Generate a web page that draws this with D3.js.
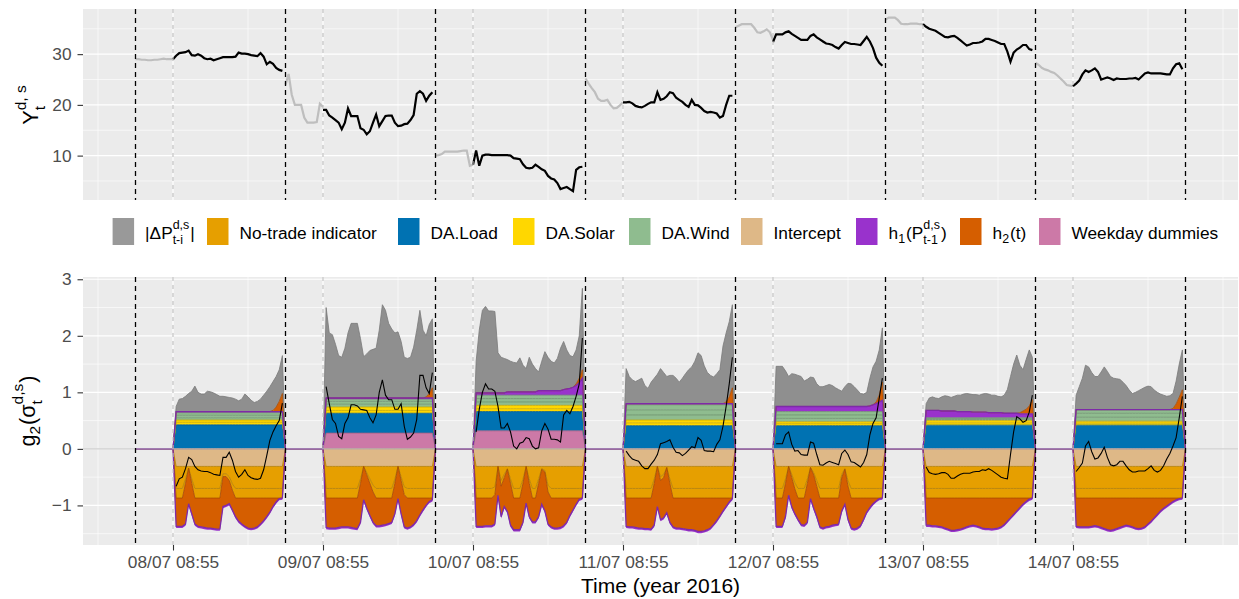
<!DOCTYPE html>
<html>
<head>
<meta charset="utf-8">
<script src="https://cdn.jsdelivr.net/npm/d3@7"></script>
<style>
body { margin: 0; background: #fff; }
text { font-family: "Liberation Sans", Arial, Helvetica, sans-serif; }
</style>
</head>
<body>
<svg id="chart" width="1239" height="599"></svg>
<script>
"use strict";

// ---------- data ----------
// one entry per trading day, 08/07 .. 14/07; 30 minute steps
const HOUR = 36e5, DAY = 24 * HOUR, STEP = HOUR / 2;
const firstTick = Date.UTC(2016, 6, 8, 8, 55);   // 08/07 08:55

// top panel: price before the 08:55 mark (grey) and after it (black)
const priceBefore = [
    [29.0, 29.0, 28.9, 28.9, 28.8, 28.8, 28.9, 28.9, 29.0, 29.1, 29.0, 29.0, 29.0],
    [24.0, 26.1, 22.0, 20.0, 20.0, 20.0, 17.5, 16.5, 16.5, 16.5, 16.6, 20.2, 19.6],
    [10.0, 10.1, 10.3, 10.8, 10.8, 10.8, 10.8, 10.8, 10.9, 11.0, 11.0, 8.0, 8.2],
    [25.2, 24.2, 23.3, 22.5, 21.2, 20.8, 20.8, 21.0, 20.0, 19.3, 19.4, 19.9, 20.5],
    [35.3, 35.6, 35.9, 35.9, 35.9, 35.9, 35.2, 34.3, 34.2, 34.5, 34.9, 34.3, 32.8],
    [36.8, 37.2, 37.2, 37.2, 36.7, 36.0, 35.9, 35.9, 36.0, 36.0, 36.0, 35.9, 35.9],
    [28.3, 27.9, 27.3, 27.0, 26.8, 26.5, 26.3, 25.8, 25.2, 24.6, 23.9, 23.8, 23.7]
];
const priceAfter = [
    [29.0, 29.7, 30.2, 30.3, 30.4, 30.7, 29.8, 29.7, 30.0, 29.7, 29.2, 29.0, 29.1, 28.8, 29.0, 29.2, 29.4, 29.4, 29.4, 29.4, 29.5, 30.3, 30.1, 30.1, 30.0, 29.8, 29.7, 29.6, 30.2, 29.5, 28.0, 28.5, 28.1, 27.3, 26.9, 26.7],
    [19.0, 19.0, 17.9, 17.5, 17.0, 16.5, 15.2, 16.5, 19.3, 17.8, 17.8, 17.8, 15.4, 15.1, 14.2, 14.8, 16.5, 18.1, 15.8, 16.8, 17.8, 17.9, 17.9, 16.5, 15.8, 15.9, 16.2, 16.3, 17.0, 18.0, 22.2, 22.7, 22.2, 20.8, 21.8, 22.5],
    [8.2, 11.0, 8.0, 10.0, 10.2, 10.2, 10.1, 10.1, 10.1, 10.1, 10.1, 10.1, 10.0, 9.5, 9.4, 9.3, 8.3, 7.6, 7.5, 7.6, 8.2, 7.8, 7.3, 7.0, 6.0, 5.5, 5.3, 4.6, 3.4, 3.6, 3.8, 3.4, 3.0, 7.2, 7.7, 7.8],
    [20.5, 20.5, 20.6, 20.3, 19.8, 19.6, 19.5, 19.8, 20.2, 20.5, 20.5, 22.5, 21.0, 21.2, 21.7, 22.5, 22.3, 21.4, 21.0, 20.6, 20.0, 19.6, 21.0, 20.0, 19.9, 19.4, 18.8, 18.5, 18.6, 18.5, 18.3, 17.5, 17.8, 20.0, 21.8, 21.8],
    [32.4, 33.9, 33.9, 33.9, 34.3, 34.5, 34.0, 33.6, 33.2, 32.8, 32.8, 32.8, 33.6, 33.9, 33.3, 32.9, 32.5, 32.1, 32.0, 31.8, 31.4, 31.1, 31.8, 32.4, 32.2, 32.0, 32.0, 31.9, 31.8, 32.6, 33.4, 32.5, 31.2, 29.3, 28.3, 27.7],
    [35.9, 35.4, 35.0, 34.8, 34.6, 34.2, 33.8, 33.4, 33.3, 33.5, 33.6, 33.2, 32.7, 32.2, 31.7, 31.9, 32.2, 32.2, 32.3, 32.5, 33.0, 33.0, 32.8, 32.6, 32.3, 32.0, 32.0, 30.5, 28.5, 30.3, 30.9, 31.3, 31.8, 31.8, 31.0, 30.8],
    [23.7, 24.2, 24.8, 26.0, 26.8, 26.5, 26.8, 27.2, 26.5, 25.0, 25.2, 25.4, 25.2, 24.9, 25.2, 25.1, 25.1, 25.1, 25.2, 25.2, 25.3, 25.0, 25.6, 26.2, 26.4, 26.2, 26.2, 26.2, 26.2, 26.1, 26.0, 26.0, 27.2, 28.0, 28.2, 27.0]
];

// bottom panel: contributions that stay flat within a day
const weekdayDummies = [0, 0.28, 0.32, 0, 0, 0, 0];
const daLoad   = [0.425, 0.35, 0.34, 0.41, 0.41, 0.42, 0.42];
const daSolar1 = [0.045, 0.05, 0.05, 0.05, 0.035, 0.04, 0.035];
const daSolar2 = [0.04, 0.06, 0.06, 0.05, 0.035, 0.04, 0.035];
const daWind1  = [0.04, 0.05, 0.06, 0.09, 0.06, 0.02, 0.07];
const daWind2  = [0.045, 0.05, 0.06, 0.09, 0.06, 0.02, 0.07];
const daWind3  = [0.045, 0.04, 0.06, 0.09, 0.06, 0.01, 0.06];
const intercept = [-0.31, -0.31, -0.31, -0.31, -0.31, -0.31, -0.31];
const h1Lower  = [-0.03, -0.03, -0.03, -0.03, -0.03, -0.03, -0.03];

// bottom panel: contributions per 30 minute step (09:25 .. 02:25)
const noTradeA = [
    [0.39, 0.39, 0.39, 0.22, 0.03, 0.22, 0.39, 0.39, 0.39, 0.39, 0.39, 0.39, 0.39, 0.39, 0.39, 0.13, 0.13, 0.18, 0.31, 0.39, 0.39, 0.39, 0.39, 0.39, 0.39, 0.39, 0.39, 0.39, 0.39, 0.39, 0.39, 0.39, 0.39, 0.39, 0.39],
    [0.39, 0.39, 0.39, 0.39, 0.39, 0.39, 0.39, 0.39, 0.39, 0.39, 0.39, 0.22, 0, 0.11, 0.22, 0.33, 0.39, 0.39, 0.39, 0.39, 0.39, 0.39, 0.22, 0, 0.18, 0.36, 0.39, 0.39, 0.39, 0.39, 0.39, 0.39, 0.39, 0.39, 0.39],
    [0.39, 0.39, 0.39, 0.39, 0.39, 0.39, 0.36, 0, 0.25, 0.14, 0.04, 0.22, 0.39, 0.39, 0.39, 0.22, 0, 0.22, 0.39, 0.39, 0.22, 0.04, 0.07, 0.33, 0.39, 0.39, 0.39, 0.39, 0.39, 0.39, 0.39, 0.39, 0.39, 0.39, 0.39],
    [0.39, 0.39, 0.39, 0.39, 0.39, 0.39, 0.39, 0.39, 0.39, 0.22, 0, 0.18, 0.14, 0.02, 0.22, 0.39, 0.39, 0.39, 0.39, 0.39, 0.39, 0.39, 0.39, 0.39, 0.39, 0.39, 0.39, 0.39, 0.39, 0.39, 0.39, 0.39, 0.39, 0.39, 0.39],
    [0.39, 0.39, 0.39, 0.22, 0, 0.14, 0.29, 0.39, 0.39, 0.39, 0.22, 0.02, 0.11, 0.25, 0.39, 0.39, 0.39, 0.39, 0.39, 0.39, 0.39, 0.14, 0.04, 0.25, 0.39, 0.39, 0.39, 0.39, 0.39, 0.39, 0.39, 0.39, 0.39, 0.39, 0.39],
    [0.39, 0.39, 0.39, 0.39, 0.39, 0.39, 0.39, 0.39, 0.39, 0.39, 0.39, 0.39, 0.39, 0.39, 0.39, 0.39, 0.39, 0.39, 0.39, 0.39, 0.39, 0.39, 0.39, 0.39, 0.39, 0.39, 0.39, 0.39, 0.39, 0.39, 0.39, 0.39, 0.39, 0.39, 0.39],
    [0.39, 0.39, 0.39, 0.39, 0.39, 0.39, 0.39, 0.39, 0.39, 0.39, 0.39, 0.39, 0.39, 0.39, 0.39, 0.39, 0.39, 0.39, 0.39, 0.39, 0.39, 0.39, 0.39, 0.39, 0.39, 0.39, 0.39, 0.39, 0.39, 0.39, 0.39, 0.39, 0.39, 0.39, 0.39]
];
const noTradeB = [
    [0.17, 0.17, 0.17, 0.08, 0, 0.08, 0.17, 0.17, 0.17, 0.17, 0.17, 0.17, 0.17, 0.17, 0.17, 0.05, 0.05, 0.07, 0.11, 0.17, 0.17, 0.17, 0.17, 0.17, 0.17, 0.17, 0.17, 0.17, 0.17, 0.17, 0.17, 0.17, 0.17, 0.17, 0.17],
    [0.17, 0.17, 0.17, 0.17, 0.17, 0.17, 0.17, 0.17, 0.17, 0.17, 0.17, 0.08, 0, 0.04, 0.08, 0.12, 0.17, 0.17, 0.17, 0.17, 0.17, 0.17, 0.08, 0, 0.07, 0.14, 0.17, 0.17, 0.17, 0.17, 0.17, 0.17, 0.17, 0.17, 0.17],
    [0.17, 0.17, 0.17, 0.17, 0.17, 0.17, 0.14, 0, 0.10, 0.06, 0.01, 0.08, 0.17, 0.17, 0.17, 0.08, 0, 0.08, 0.17, 0.17, 0.08, 0.01, 0.03, 0.12, 0.17, 0.17, 0.17, 0.17, 0.17, 0.17, 0.17, 0.17, 0.17, 0.17, 0.17],
    [0.17, 0.17, 0.17, 0.17, 0.17, 0.17, 0.17, 0.17, 0.17, 0.08, 0, 0.07, 0.06, 0, 0.08, 0.17, 0.17, 0.17, 0.17, 0.17, 0.17, 0.17, 0.17, 0.17, 0.17, 0.17, 0.17, 0.17, 0.17, 0.17, 0.17, 0.17, 0.17, 0.17, 0.17],
    [0.17, 0.17, 0.17, 0.08, 0, 0.06, 0.11, 0.17, 0.17, 0.17, 0.08, 0, 0.04, 0.10, 0.17, 0.17, 0.17, 0.17, 0.17, 0.17, 0.17, 0.06, 0.01, 0.10, 0.17, 0.17, 0.17, 0.17, 0.17, 0.17, 0.17, 0.17, 0.17, 0.17, 0.17],
    [0.17, 0.17, 0.17, 0.17, 0.17, 0.17, 0.17, 0.17, 0.17, 0.17, 0.17, 0.17, 0.17, 0.17, 0.17, 0.17, 0.17, 0.17, 0.17, 0.17, 0.17, 0.17, 0.17, 0.17, 0.17, 0.17, 0.17, 0.17, 0.17, 0.17, 0.17, 0.17, 0.17, 0.17, 0.17],
    [0.17, 0.17, 0.17, 0.17, 0.17, 0.17, 0.17, 0.17, 0.17, 0.17, 0.17, 0.17, 0.17, 0.17, 0.17, 0.17, 0.17, 0.17, 0.17, 0.17, 0.17, 0.17, 0.17, 0.17, 0.17, 0.17, 0.17, 0.17, 0.17, 0.17, 0.17, 0.17, 0.17, 0.17, 0.17]
];
const h2Negative = [
    [-0.50, -0.50, -0.50, -0.72, -0.63, -0.54, -0.46, -0.50, -0.51, -0.52, -0.53, -0.53, -0.54, -0.55, -0.55, -0.53, -0.51, -0.41, -0.35, -0.33, -0.41, -0.46, -0.50, -0.53, -0.54, -0.53, -0.51, -0.46, -0.40, -0.33, -0.25, -0.15, -0.07, -0.01, 0],
    [-0.52, -0.53, -0.53, -0.53, -0.52, -0.51, -0.51, -0.51, -0.52, -0.53, -0.54, -0.69, -0.59, -0.59, -0.57, -0.54, -0.49, -0.49, -0.48, -0.47, -0.45, -0.43, -0.54, -0.57, -0.59, -0.57, -0.53, -0.51, -0.47, -0.40, -0.30, -0.21, -0.13, -0.06, -0.03],
    [-0.50, -0.50, -0.50, -0.49, -0.49, -0.49, -0.52, -0.51, -0.54, -0.51, -0.75, -0.74, -0.56, -0.56, -0.56, -0.69, -0.65, -0.59, -0.42, -0.42, -0.59, -0.62, -0.69, -0.57, -0.51, -0.53, -0.53, -0.52, -0.49, -0.43, -0.31, -0.21, -0.11, -0.02, 0],
    [-0.50, -0.51, -0.51, -0.52, -0.53, -0.53, -0.54, -0.54, -0.55, -0.74, -0.71, -0.69, -0.71, -0.80, -0.69, -0.51, -0.53, -0.53, -0.54, -0.55, -0.56, -0.56, -0.57, -0.59, -0.59, -0.58, -0.56, -0.53, -0.47, -0.40, -0.32, -0.23, -0.15, -0.07, -0.01],
    [-0.50, -0.50, -0.50, -0.59, -0.51, -0.52, -0.44, -0.38, -0.47, -0.48, -0.69, -0.55, -0.59, -0.54, -0.51, -0.53, -0.51, -0.50, -0.48, -0.47, -0.46, -0.59, -0.62, -0.59, -0.53, -0.55, -0.53, -0.49, -0.38, -0.25, -0.17, -0.10, -0.05, -0.01, 0],
    [-0.48, -0.48, -0.49, -0.49, -0.50, -0.51, -0.53, -0.55, -0.57, -0.57, -0.56, -0.55, -0.53, -0.51, -0.49, -0.48, -0.49, -0.51, -0.53, -0.54, -0.54, -0.55, -0.54, -0.53, -0.51, -0.47, -0.41, -0.35, -0.29, -0.23, -0.17, -0.11, -0.06, -0.02, 0],
    [-0.50, -0.51, -0.51, -0.51, -0.51, -0.50, -0.49, -0.50, -0.52, -0.54, -0.56, -0.57, -0.56, -0.54, -0.52, -0.50, -0.48, -0.49, -0.51, -0.53, -0.54, -0.53, -0.51, -0.46, -0.41, -0.35, -0.29, -0.23, -0.18, -0.14, -0.10, -0.06, -0.03, -0.01, 0]
];
const h2Positive = [
    [0, 0, 0, 0, 0, 0, 0, 0, 0, 0, 0, 0, 0, 0, 0, 0, 0, 0, 0, 0, 0, 0, 0, 0, 0, 0, 0, 0, 0, 0, 0, 0.02, 0.08, 0.18, 0.32],
    [0, 0, 0, 0, 0, 0, 0, 0, 0, 0, 0, 0, 0, 0, 0, 0, 0, 0, 0, 0, 0, 0, 0, 0, 0, 0, 0, 0, 0, 0, 0, 0, 0.02, 0.08, 0.18],
    [0, 0, 0, 0, 0, 0, 0, 0, 0, 0, 0, 0, 0, 0, 0, 0, 0, 0, 0, 0, 0, 0, 0, 0, 0, 0, 0, 0, 0, 0, 0, 0, 0.03, 0.08, 0.15],
    [0, 0, 0, 0, 0, 0, 0, 0, 0, 0, 0, 0, 0, 0, 0, 0, 0, 0, 0, 0, 0, 0, 0, 0, 0, 0, 0, 0, 0, 0, 0, 0, 0.03, 0.12, 0.28],
    [0, 0, 0, 0, 0, 0, 0, 0, 0, 0, 0, 0, 0, 0, 0, 0, 0, 0, 0, 0, 0, 0, 0, 0, 0, 0, 0, 0, 0, 0, 0, 0, 0.03, 0.12, 0.32],
    [0, 0, 0, 0, 0, 0, 0, 0, 0, 0, 0, 0, 0, 0, 0, 0, 0, 0, 0, 0, 0, 0, 0, 0, 0, 0, 0, 0, 0, 0, 0.02, 0.05, 0.08, 0.14, 0.25],
    [0, 0, 0, 0, 0, 0, 0, 0, 0, 0, 0, 0, 0, 0, 0, 0, 0, 0, 0, 0, 0, 0, 0, 0, 0, 0, 0, 0, 0, 0, 0, 0.02, 0.10, 0.22, 0.35]
];
const h1Upper = [
    [0.02, 0.02, 0.02, 0.02, 0.02, 0.02, 0.02, 0.02, 0.02, 0.02, 0.02, 0.02, 0.02, 0.02, 0.02, 0.02, 0.02, 0.02, 0.02, 0.02, 0.02, 0.02, 0.02, 0.02, 0.02, 0.02, 0.02, 0.02, 0.02, 0.02, 0.02, 0.02, 0.02, 0.02, 0.02],
    [0.02, 0.02, 0.02, 0.02, 0.02, 0.02, 0.02, 0.02, 0.02, 0.02, 0.02, 0.02, 0.02, 0.02, 0.02, 0.02, 0.02, 0.02, 0.02, 0.02, 0.02, 0.02, 0.02, 0.02, 0.02, 0.02, 0.02, 0.02, 0.02, 0.02, 0.02, 0.02, 0.02, 0.02, 0.02],
    [0.04, 0.04, 0.04, 0.04, 0.04, 0.04, 0.04, 0.04, 0.04, 0.04, 0.06, 0.06, 0.06, 0.06, 0.06, 0.06, 0.06, 0.06, 0.06, 0.06, 0.08, 0.08, 0.08, 0.08, 0.08, 0.08, 0.08, 0.08, 0.10, 0.11, 0.12, 0.14, 0.17, 0.22, 0.30],
    [0.02, 0.02, 0.02, 0.02, 0.02, 0.02, 0.02, 0.02, 0.02, 0.02, 0.02, 0.02, 0.02, 0.02, 0.02, 0.02, 0.02, 0.02, 0.02, 0.02, 0.02, 0.02, 0.02, 0.02, 0.02, 0.02, 0.02, 0.02, 0.02, 0.02, 0.02, 0.02, 0.02, 0.02, 0.02],
    [0.09, 0.09, 0.09, 0.09, 0.09, 0.09, 0.09, 0.09, 0.09, 0.09, 0.09, 0.09, 0.09, 0.09, 0.09, 0.09, 0.09, 0.09, 0.09, 0.09, 0.09, 0.09, 0.09, 0.09, 0.09, 0.09, 0.09, 0.09, 0.09, 0.09, 0.10, 0.12, 0.14, 0.17, 0.20],
    [0.13, 0.13, 0.13, 0.13, 0.13, 0.12, 0.12, 0.12, 0.12, 0.12, 0.11, 0.11, 0.11, 0.11, 0.11, 0.10, 0.10, 0.10, 0.10, 0.10, 0.09, 0.09, 0.09, 0.09, 0.09, 0.08, 0.08, 0.08, 0.08, 0.08, 0.07, 0.07, 0.07, 0.07, 0.07],
    [0.005, 0.005, 0.005, 0.005, 0.005, 0.005, 0.005, 0.005, 0.005, 0.005, 0.005, 0.005, 0.005, 0.005, 0.005, 0.005, 0.005, 0.005, 0.005, 0.005, 0.005, 0.005, 0.005, 0.005, 0.005, 0.005, 0.005, 0.005, 0.005, 0.005, 0.005, 0.005, 0.005, 0.005, 0.005]
];
// upper edge of the |dP| band (top of the whole positive stack)
const deltaPTop = [
    [0.75, 0.88, 0.89, 0.93, 0.98, 1.02, 1.11, 1.00, 0.97, 0.97, 1.02, 1.01, 0.99, 0.96, 0.93, 0.93, 0.92, 0.91, 0.90, 0.88, 0.85, 0.88, 0.97, 0.92, 0.86, 0.82, 0.84, 0.88, 0.95, 1.02, 1.10, 1.19, 1.28, 1.40, 1.65],
    [2.50, 2.05, 2.02, 1.85, 1.65, 1.62, 1.78, 2.05, 2.22, 2.22, 2.22, 1.95, 1.63, 1.68, 1.74, 1.76, 1.78, 2.10, 2.55, 2.45, 2.22, 2.12, 2.05, 2.07, 1.90, 1.62, 1.60, 1.62, 1.80, 2.10, 2.45, 2.10, 2.00, 2.20, 2.30],
    [1.55, 2.10, 2.45, 2.52, 2.44, 2.44, 2.43, 1.70, 1.62, 1.60, 1.58, 1.55, 1.53, 1.52, 1.61, 1.48, 1.42, 1.62, 1.50, 1.42, 1.36, 1.55, 1.72, 1.62, 1.55, 1.52, 1.60, 1.78, 1.90, 1.75, 1.65, 1.63, 1.75, 2.00, 2.84],
    [1.42, 1.28, 1.22, 1.19, 1.22, 1.25, 1.12, 1.07, 1.18, 1.25, 1.32, 1.42, 1.35, 1.28, 1.30, 1.30, 1.25, 1.18, 1.25, 1.33, 1.40, 1.45, 1.55, 1.70, 1.65, 1.47, 1.35, 1.30, 1.27, 1.33, 1.40, 1.82, 2.05, 2.25, 2.55],
    [1.46, 1.46, 1.46, 1.38, 1.28, 1.33, 1.32, 1.30, 1.28, 1.20, 1.23, 1.27, 1.26, 1.15, 1.10, 1.10, 1.12, 1.14, 1.12, 1.08, 1.05, 1.02, 1.10, 1.16, 1.15, 1.10, 1.04, 0.98, 0.97, 1.00, 1.25, 1.45, 1.55, 1.75, 2.14],
    [0.80, 0.90, 0.92, 0.90, 0.89, 0.92, 0.94, 0.93, 0.91, 0.93, 0.95, 0.95, 0.97, 0.98, 0.97, 0.96, 0.96, 0.95, 0.97, 0.98, 0.97, 0.95, 0.95, 0.93, 0.92, 0.95, 1.05, 1.28, 1.50, 1.66, 1.48, 1.40, 1.58, 1.75, 1.62],
    [0.95, 1.10, 1.25, 1.48, 1.45, 1.35, 1.28, 1.28, 1.36, 1.45, 1.37, 1.28, 1.25, 1.24, 1.23, 1.18, 1.12, 1.04, 0.98, 1.00, 1.03, 1.06, 1.09, 1.11, 1.10, 1.04, 1.00, 0.97, 0.95, 0.93, 0.94, 0.98, 1.20, 1.50, 1.75]
];
// black line: total g2(sigma)
const totalEffect = [
    [-0.66, -0.53, -0.50, -0.35, -0.15, -0.19, -0.31, -0.37, -0.39, -0.40, -0.40, -0.42, -0.45, -0.46, -0.47, -0.15, -0.15, -0.06, -0.20, -0.40, -0.50, -0.45, -0.37, -0.47, -0.51, -0.53, -0.54, -0.52, -0.37, -0.12, 0.15, 0.30, 0.41, 0.50, 0.81],
    [1.10, 0.80, 0.52, 0.45, 0.22, 0.18, 0.45, 0.55, 0.78, 0.78, 0.76, 0.70, 0.69, 0.68, 0.55, 0.46, 0.60, 1.00, 1.22, 0.95, 0.87, 0.87, 0.70, 0.70, 0.80, 0.40, 0.17, 0.21, 0.28, 0.52, 1.30, 1.30, 1.08, 0.98, 1.35],
    [0.30, 0.70, 1.00, 1.15, 1.06, 1.06, 1.02, 0.75, 0.37, 0.37, 0.45, 0.30, 0.05, 0.00, 0.10, 0.12, 0.20, 0.18, 0.05, 0.00, 0.02, 0.32, 0.45, 0.35, 0.17, 0.17, 0.16, 0.12, 0.60, 0.68, 0.62, 0.75, 0.93, 1.15, 1.96],
    [-0.04, -0.12, -0.18, -0.20, -0.22, -0.30, -0.35, -0.35, -0.27, -0.20, -0.10, 0.09, 0.11, 0.13, 0.16, 0.03, -0.06, -0.07, -0.12, -0.08, -0.02, 0.04, 0.02, 0.20, 0.15, -0.03, -0.04, -0.04, -0.05, 0.08, 0.16, 0.40, 0.75, 1.15, 1.62],
    [0.09, 0.09, 0.09, 0.25, 0.30, 0.08, -0.04, -0.03, -0.10, -0.11, -0.11, 0.12, 0.10, -0.10, -0.28, -0.29, -0.25, -0.22, -0.24, -0.26, -0.28, -0.08, -0.02, -0.10, -0.23, -0.24, -0.28, -0.32, -0.24, -0.10, 0.25, 0.45, 0.55, 0.90, 1.25],
    [-0.32, -0.42, -0.44, -0.45, -0.44, -0.42, -0.42, -0.45, -0.52, -0.52, -0.48, -0.45, -0.43, -0.43, -0.43, -0.41, -0.40, -0.40, -0.37, -0.38, -0.35, -0.38, -0.42, -0.46, -0.50, -0.52, -0.53, -0.10, 0.30, 0.57, 0.53, 0.47, 0.50, 0.65, 0.95],
    [-0.40, -0.33, -0.25, 0.05, 0.13, -0.05, -0.18, -0.16, -0.08, 0.03, -0.15, -0.28, -0.30, -0.28, -0.22, -0.22, -0.30, -0.37, -0.41, -0.41, -0.39, -0.39, -0.39, -0.35, -0.30, -0.38, -0.41, -0.38, -0.30, -0.18, -0.08, 0.05, 0.20, 0.55, 0.93]
];

const topMajor = [10, 20, 30], topMinor = [5, 15, 25, 35];
const botMajor = [-1, 0, 1, 2, 3], botMinor = [-1.5, -0.5, 0.5, 1.5, 2.5];

const colors = {
    grey: "#999999", noTrade: "#E69F00", load: "#0072B2", solar: "#FFD700", wind: "#8FBC8F",
    intercept: "#DEB887", h1: "#9932CC", h2: "#D55E00", weekday: "#CC79A7"
};

// ---------- layout ----------
const svg = d3.select("#chart");
const W = 1239, H = 599;
const left = 83, right = 1238;
const topPanel = [200, 9], botPanel = [545, 277];
const nDays = priceAfter.length;

const x = d3.scaleUtc()
    .domain([firstTick - 6 * HOUR - 0.35 * DAY, firstTick + (nDays - 1) * DAY + 18 * HOUR + 0.35 * DAY])
    .range([left, right]);
const yTop = d3.scaleLinear().domain([1.25, 38.9]).range(topPanel);
const yBot = d3.scaleLinear().domain([-1.70, 3.04]).range(botPanel);

const majorTimes = d3.range(nDays).map(d => firstTick + d * DAY);
const minorTimes = d3.range(nDays + 1).map(d => firstTick + (d - 0.5) * DAY).concat([firstTick + nDays * DAY]);
const closeTimes = d3.range(nDays + 1).map(d => firstTick + d * DAY - 6 * HOUR);

svg.append("rect").attr("width", W).attr("height", H).attr("fill", "#fff");

function drawPanel(y, range, majors, minors) {
    const g = svg.append("g");
    g.append("rect")
        .attr("x", left).attr("y", range[1])
        .attr("width", right - left).attr("height", range[0] - range[1])
        .attr("fill", "#EBEBEB");
    const hl = (v, w) => g.append("line").attr("x1", left).attr("x2", right)
        .attr("y1", y(v)).attr("y2", y(v)).attr("stroke", "#fff").attr("stroke-width", w);
    const vl = (t, w) => g.append("line").attr("x1", x(t)).attr("x2", x(t))
        .attr("y1", range[1]).attr("y2", range[0]).attr("stroke", "#fff").attr("stroke-width", w);
    minors.forEach(v => hl(v, 0.6));
    minorTimes.forEach(t => vl(t, 0.6));
    majors.forEach(v => hl(v, 1.2));
    majorTimes.forEach(t => vl(t, 1.2));
    // y axis
    const ax = svg.append("g").attr("transform", `translate(${left},0)`)
        .call(d3.axisLeft(y).tickValues(majors).tickSize(5.5).tickPadding(6).tickFormat(d3.format("d")));
    ax.select(".domain").remove();
    ax.selectAll("line").attr("stroke", "#333").attr("stroke-width", 1.1);
    ax.selectAll("text").attr("fill", "#4D4D4D").style("font-size", "17.3px")
        .style("font-family", "'Liberation Sans', Arial, sans-serif");
    return g;
}

function drawMarkers(range) {
    closeTimes.forEach(t => svg.append("line")
        .attr("x1", x(t)).attr("x2", x(t)).attr("y1", range[1]).attr("y2", range[0])
        .attr("stroke", "#000").attr("stroke-width", 1.3).attr("stroke-dasharray", "5,4"));
    majorTimes.forEach(t => svg.append("line")
        .attr("x1", x(t)).attr("x2", x(t)).attr("y1", range[1]).attr("y2", range[0])
        .attr("stroke", "#BDBDBD").attr("stroke-width", 1.1).attr("stroke-dasharray", "4,4"));
}

// math-like label: pieces with optional stacked super / subscripts
function mathText(g, parts, size, fill) {
    let cx = 0;
    const put = (s, dy, fs) => {
        const el = g.append("text").attr("x", cx).attr("y", dy)
            .attr("fill", fill).style("font-size", fs + "px").text(s);
        return el.node().getComputedTextLength();
    };
    parts.forEach(p => {
        if (typeof p === "string") {
            cx += put(p, 0, size);
        } else {
            let w = 0;
            if (p.sup) w = Math.max(w, put(p.sup, -size * 0.55, size * 0.72));
            if (p.sub) w = Math.max(w, put(p.sub, size * (p.sup ? 0.32 : 0.25), size * 0.72));
            cx += w + 1;
        }
    });
    return cx;
}

// ---------- top panel ----------
drawPanel(yTop, topPanel, topMajor, topMinor);
const priceLine = d3.line().x(d => x(d.t)).y(d => yTop(d.v));
priceBefore.forEach((vals, d) => {
    svg.append("path")
        .datum(vals.map((v, j) => ({ t: firstTick + d * DAY - 6 * HOUR + j * STEP, v: v })))
        .attr("d", priceLine).attr("fill", "none").attr("stroke", "#BEBEBE").attr("stroke-width", 2.2);
});
priceAfter.forEach((vals, d) => {
    svg.append("path")
        .datum(vals.map((v, k) => ({ t: firstTick + d * DAY + k * STEP, v: v })))
        .attr("d", priceLine).attr("fill", "none").attr("stroke", "#000").attr("stroke-width", 2.2);
});
drawMarkers(topPanel);

// ---------- bottom panel ----------
drawPanel(yBot, botPanel, botMajor, botMinor);

const layers = [
    { key: "weekday", color: colors.weekday },
    { key: "load", color: colors.load },
    { key: "solar1", color: colors.solar },
    { key: "solar2", color: colors.solar },
    { key: "wind1", color: colors.wind },
    { key: "wind2", color: colors.wind },
    { key: "wind3", color: colors.wind },
    { key: "intercept", color: colors.intercept, neg: true },
    { key: "ntA", color: colors.noTrade, neg: true },
    { key: "ntB", color: colors.noTrade, neg: true },
    { key: "h1pos", color: colors.h1 },
    { key: "h2pos", color: colors.h2 },
    { key: "h2neg", color: colors.h2, neg: true },
    { key: "h1neg", color: colors.h1, neg: true },
    { key: "grey", color: "#8F8F8F" }
];

const zeroRow = t => {
    const r = { t: t };
    layers.forEach(l => { r[l.key] = 0; });
    return r;
};
const rows = [];
for (let d = 0; d < nDays; d++) {
    rows.push(zeroRow(firstTick + d * DAY - 6 * HOUR));
    rows.push(zeroRow(firstTick + d * DAY));
    deltaPTop[d].forEach((top, i) => {
        const r = {
            t: firstTick + d * DAY + (i + 1) * STEP,
            weekday: weekdayDummies[d], load: daLoad[d],
            solar1: daSolar1[d], solar2: daSolar2[d],
            wind1: daWind1[d], wind2: daWind2[d], wind3: daWind3[d],
            intercept: intercept[d], ntA: -noTradeA[d][i], ntB: -noTradeB[d][i],
            h1pos: h1Upper[d][i], h2pos: h2Positive[d][i],
            h2neg: h2Negative[d][i], h1neg: h1Lower[d]
        };
        const below = layers.filter(l => !l.neg && l.key !== "grey").reduce((s, l) => s + r[l.key], 0);
        r.grey = Math.max(0, top - below);
        rows.push(r);
    });
}
rows.push(zeroRow(firstTick + (nDays - 1) * DAY + 18 * HOUR));

// stack: positive parts upward, negative parts downward, in layer order
const stacked = {};
layers.forEach(l => { stacked[l.key] = []; });
rows.forEach(r => {
    let pos = 0, neg = 0;
    layers.forEach(l => {
        const v = r[l.key];
        if (l.neg) {
            stacked[l.key].push({ t: r.t, lo: neg + v, hi: neg });
            neg += v;
        } else {
            stacked[l.key].push({ t: r.t, lo: pos, hi: pos + v });
            pos += v;
        }
    });
});

const area = d3.area().x(d => x(d.t)).y0(d => yBot(d.lo)).y1(d => yBot(d.hi));
const upper = d3.line().x(d => x(d.t)).y(d => yBot(d.hi));
const gArea = svg.append("g");
layers.forEach(l => {
    gArea.append("path").datum(stacked[l.key]).attr("d", area).attr("fill", l.color);
});
const lineOrder = ["weekday", "load", "solar1", "solar2", "wind1", "wind2", "wind3", "intercept",
    "ntA", "ntB", "h2neg", "h2pos", "grey", "h1pos", "h1neg"];
lineOrder.forEach(key => {
    const l = layers.find(e => e.key === key);
    const isH1 = key.startsWith("h1");
    gArea.append("path").datum(stacked[key]).attr("d", upper).attr("fill", "none")
        .attr("stroke", key === "grey" ? "#7A7A7A" : (isH1 ? "#7E2AA8" : d3.color(l.color).darker(0.7)))
        .attr("stroke-width", isH1 ? 1.3 : 0.8);
});

// zero reference line
svg.append("line").attr("x1", left).attr("x2", right).attr("y1", yBot(0)).attr("y2", yBot(0))
    .attr("stroke", "#BDBDBD").attr("stroke-width", 1.3).attr("stroke-opacity", 0.75);

drawMarkers(botPanel);

const effectLine = d3.line().x(d => x(d.t)).y(d => yBot(d.v));
totalEffect.forEach((vals, d) => {
    svg.append("path")
        .datum(vals.map((v, i) => ({ t: firstTick + d * DAY + (i + 1) * STEP, v: v })))
        .attr("d", effectLine).attr("fill", "none").attr("stroke", "#000").attr("stroke-width", 1.1);
});

// x axis
const xAxis = svg.append("g").attr("transform", `translate(0,${botPanel[0]})`)
    .call(d3.axisBottom(x).tickValues(majorTimes.map(t => new Date(t)))
        .tickFormat(d3.utcFormat("%d/%m %H:%M")).tickSize(5.5).tickPadding(5));
xAxis.select(".domain").remove();
xAxis.selectAll("line").attr("stroke", "#333").attr("stroke-width", 1.1);
xAxis.selectAll("text").attr("fill", "#4D4D4D").style("font-size", "17.3px")
    .style("font-family", "'Liberation Sans', Arial, sans-serif");

svg.append("text").attr("x", (left + right) / 2).attr("y", 592.5).attr("text-anchor", "middle")
    .style("font-size", "21px").attr("fill", "#000").text("Time (year 2016)");

// y axis titles
function yTitle(parts, cx, cy) {
    const g = svg.append("g");
    const inner = g.append("g");
    const w = mathText(inner, parts, 21.6, "#000");
    inner.attr("transform", `translate(${-w / 2},0)`);
    g.attr("transform", `translate(${cx},${cy}) rotate(-90)`);
}
yTitle(["Y", { sup: "d, s", sub: "t" }], 38, (topPanel[0] + topPanel[1]) / 2);
yTitle(["g", { sub: "2" }, "(σ", { sup: "d,s", sub: "t" }, ")"], 35, (botPanel[0] + botPanel[1]) / 2);

// ---------- legend ----------
const legendItems = [
    { color: colors.grey, x: 112.6, label: ["|ΔP", { sup: "d,s", sub: "t-i" }, "|"] },
    { color: colors.noTrade, x: 207, label: ["No-trade indicator"] },
    { color: colors.load, x: 398, label: ["DA.Load"] },
    { color: colors.solar, x: 513, label: ["DA.Solar"] },
    { color: colors.wind, x: 629, label: ["DA.Wind"] },
    { color: colors.intercept, x: 741, label: ["Intercept"] },
    { color: colors.h1, x: 856, label: ["h", { sub: "1" }, "(P", { sup: "d,s", sub: "t-1" }, ")"] },
    { color: colors.h2, x: 960, label: ["h", { sub: "2" }, "(t)"] },
    { color: colors.weekday, x: 1039, label: ["Weekday dummies"] }
];
const legend = svg.append("g");
legendItems.forEach(item => {
    legend.append("rect").attr("x", item.x).attr("y", 218).attr("width", 21.5).attr("height", 27)
        .attr("fill", item.color);
    const g = legend.append("g").attr("transform", `translate(${item.x + 32.5},238.5)`);
    mathText(g, item.label, 17.3, "#000");
});
</script>
</body>
</html>
